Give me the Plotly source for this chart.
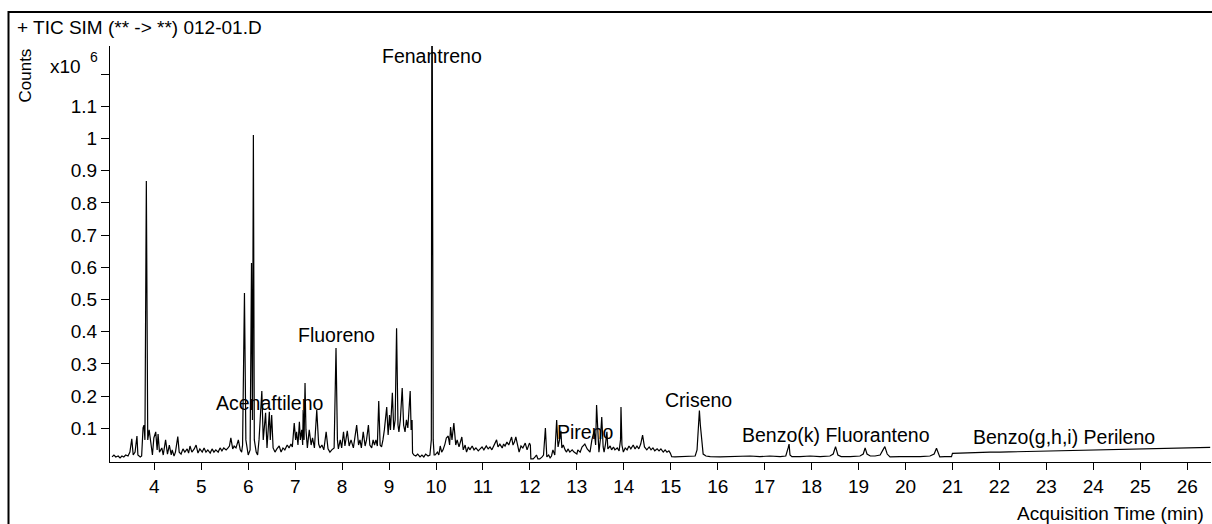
import plotly.graph_objects as go

# Acquisition time (min) and counts (x10^6)
time_min = [
    3.10, 3.14, 3.18, 3.23, 3.27, 3.31, 3.35, 3.39, 3.44, 3.48, 3.52, 3.55, 3.59, 3.63, 3.65, 3.70, 3.73, 3.76, 3.78, 3.80,
    3.83, 3.86, 3.89, 3.93, 3.96, 3.99, 4.03, 4.06, 4.08, 4.11, 4.16, 4.19, 4.24, 4.28, 4.32, 4.36, 4.38, 4.42, 4.45, 4.50,
    4.53, 4.57, 4.61, 4.65, 4.70, 4.73, 4.76, 4.80, 4.85, 4.89, 4.93, 4.97, 5.02, 5.06, 5.10, 5.14, 5.19, 5.23, 5.27, 5.31,
    5.36, 5.40, 5.44, 5.48, 5.53, 5.57, 5.60, 5.63, 5.67, 5.70, 5.74, 5.79, 5.83, 5.86, 5.88, 5.92, 5.95, 6.00, 6.04, 6.07,
    6.09, 6.11, 6.13, 6.17, 6.20, 6.23, 6.26, 6.29, 6.32, 6.34, 6.37, 6.40, 6.42, 6.45, 6.47, 6.50, 6.53, 6.57, 6.61, 6.66,
    6.70, 6.74, 6.78, 6.83, 6.87, 6.91, 6.94, 6.98, 7.01, 7.03, 7.06, 7.09, 7.11, 7.14, 7.16, 7.17, 7.19, 7.21, 7.23, 7.26,
    7.30, 7.34, 7.37, 7.41, 7.46, 7.50, 7.53, 7.57, 7.61, 7.66, 7.70, 7.74, 7.78, 7.83, 7.87, 7.90, 7.92, 7.96, 7.99, 8.03,
    8.06, 8.11, 8.15, 8.19, 8.24, 8.27, 8.31, 8.35, 8.38, 8.41, 8.45, 8.49, 8.52, 8.56, 8.59, 8.63, 8.66, 8.69, 8.72, 8.75,
    8.78, 8.81, 8.84, 8.87, 8.90, 8.95, 8.98, 9.01, 9.03, 9.07, 9.10, 9.13, 9.16, 9.19, 9.21, 9.24, 9.28, 9.31, 9.34, 9.37,
    9.40, 9.45, 9.47, 9.49, 9.50, 9.53, 9.57, 9.61, 9.66, 9.70, 9.74, 9.78, 9.83, 9.87, 9.90, 9.91, 9.92, 9.94, 9.96, 9.98,
    10.03, 10.06, 10.09, 10.12, 10.15, 10.19, 10.22, 10.26, 10.29, 10.31, 10.34, 10.38, 10.42, 10.45, 10.49, 10.55, 10.58,
    10.62, 10.65, 10.69, 10.72, 10.77, 10.81, 10.85, 10.90, 10.94, 10.98, 11.02, 11.07, 11.11, 11.15, 11.19, 11.24, 11.29,
    11.32, 11.36, 11.41, 11.44, 11.47, 11.51, 11.55, 11.61, 11.64, 11.67, 11.70, 11.74, 11.77, 11.81, 11.85, 11.90, 11.94,
    11.99, 12.01, 12.02, 12.07, 12.11, 12.14, 12.17, 12.21, 12.26, 12.29, 12.33, 12.36, 12.40, 12.43, 12.46, 12.49, 12.53,
    12.57, 12.59, 12.60, 12.63, 12.66, 12.68, 12.71, 12.75, 12.78, 12.81, 12.85, 12.90, 12.94, 13.00, 13.02, 13.07, 13.11,
    13.17, 13.22, 13.28, 13.32, 13.37, 13.40, 13.42, 13.45, 13.47, 13.50, 13.53, 13.56, 13.58, 13.61, 13.64, 13.66, 13.71,
    13.74, 13.78, 13.81, 13.86, 13.90, 13.93, 13.94, 13.96, 13.99, 14.03, 14.07, 14.11, 14.15, 14.20, 14.24, 14.28, 14.32,
    14.36, 14.40, 14.44, 14.49, 14.54, 14.58, 14.62, 14.66, 14.71, 14.75, 14.79, 14.84, 14.88, 14.92, 14.96, 14.99, 15.02,
    15.09, 15.20, 15.30, 15.41, 15.52, 15.56, 15.59, 15.61, 15.63, 15.67, 15.69, 15.75, 15.84, 16.05, 16.27, 16.48, 16.69,
    16.90, 17.11, 17.33, 17.45, 17.50, 17.52, 17.54, 17.58, 17.75, 17.97, 18.18, 18.39, 18.46, 18.51, 18.56, 18.63, 18.82,
    19.03, 19.10, 19.14, 19.18, 19.25, 19.35, 19.46, 19.52, 19.56, 19.61, 19.67, 19.88, 20.10, 20.31, 20.52, 20.61, 20.66,
    20.71, 20.73, 20.84, 20.95, 20.98, 21.00, 21.16, 21.37, 21.59, 21.80, 22.01, 22.29, 22.65, 23.08, 23.50, 23.72, 24.14,
    24.57, 25.14, 25.64, 26.06, 26.49,
]
counts_e6 = [
    0.011, 0.017, 0.011, 0.014, 0.008, 0.014, 0.011, 0.017, 0.014, 0.026, 0.067, 0.017, 0.026, 0.076, 0.017, 0.011, 0.014, 0.101, 0.110, 0.064,
    0.868, 0.064, 0.095, 0.048, 0.017, 0.070, 0.089, 0.033, 0.082, 0.026, 0.039, 0.017, 0.064, 0.020, 0.048, 0.017, 0.033, 0.014, 0.026, 0.074,
    0.026, 0.020, 0.036, 0.026, 0.036, 0.023, 0.045, 0.026, 0.036, 0.048, 0.023, 0.036, 0.026, 0.039, 0.026, 0.033, 0.023, 0.036, 0.026, 0.033,
    0.026, 0.039, 0.030, 0.039, 0.033, 0.039, 0.045, 0.070, 0.036, 0.045, 0.039, 0.064, 0.033, 0.026, 0.048, 0.520, 0.064, 0.017, 0.033, 0.613,
    0.126, 1.011, 0.064, 0.026, 0.017, 0.064, 0.126, 0.216, 0.064, 0.095, 0.148, 0.039, 0.095, 0.151, 0.064, 0.141, 0.039, 0.026, 0.036, 0.045,
    0.026, 0.039, 0.033, 0.048, 0.039, 0.051, 0.042, 0.116, 0.064, 0.089, 0.048, 0.120, 0.064, 0.095, 0.048, 0.157, 0.064, 0.241, 0.095, 0.039,
    0.095, 0.048, 0.070, 0.039, 0.157, 0.051, 0.039, 0.048, 0.033, 0.089, 0.036, 0.026, 0.033, 0.039, 0.349, 0.064, 0.036, 0.064, 0.039, 0.089,
    0.045, 0.092, 0.045, 0.064, 0.039, 0.064, 0.110, 0.048, 0.064, 0.039, 0.089, 0.045, 0.064, 0.110, 0.048, 0.039, 0.064, 0.048, 0.064, 0.045,
    0.185, 0.048, 0.042, 0.064, 0.095, 0.166, 0.079, 0.141, 0.095, 0.210, 0.095, 0.126, 0.411, 0.110, 0.089, 0.126, 0.225, 0.110, 0.089, 0.126,
    0.101, 0.216, 0.095, 0.126, 0.023, 0.017, 0.014, 0.020, 0.011, 0.017, 0.011, 0.020, 0.014, 0.017, 0.064, 1.306, 1.306, 0.064, 0.017, 0.017,
    0.026, 0.017, 0.045, 0.026, 0.033, 0.051, 0.070, 0.076, 0.048, 0.104, 0.064, 0.116, 0.048, 0.064, 0.042, 0.073, 0.033,
    0.048, 0.026, 0.042, 0.033, 0.045, 0.033, 0.039, 0.030, 0.036, 0.042, 0.033, 0.045, 0.036, 0.042, 0.033, 0.048, 0.064,
    0.042, 0.051, 0.039, 0.051, 0.045, 0.057, 0.048, 0.073, 0.048, 0.057, 0.073, 0.039, 0.026, 0.045, 0.039, 0.054, 0.033,
    0.054, 0.048, 0.005, 0.005, 0.011, 0.017, 0.005, 0.005, 0.011, 0.017, 0.101, 0.011, 0.017, 0.008, 0.014, 0.033, 0.017,
    0.126, 0.064, 0.042, 0.064, 0.092, 0.039, 0.048, 0.033, 0.026, 0.036, 0.026, 0.033, 0.026, 0.020, 0.033, 0.026, 0.042,
    0.051, 0.036, 0.026, 0.064, 0.092, 0.048, 0.172, 0.048, 0.026, 0.064, 0.135, 0.042, 0.026, 0.051, 0.089, 0.036, 0.045,
    0.033, 0.042, 0.033, 0.039, 0.030, 0.064, 0.166, 0.048, 0.026, 0.039, 0.033, 0.045, 0.036, 0.048, 0.036, 0.045, 0.036,
    0.051, 0.079, 0.042, 0.033, 0.042, 0.033, 0.039, 0.030, 0.036, 0.030, 0.036, 0.026, 0.033, 0.026, 0.030, 0.023, 0.012,
    0.011, 0.012, 0.011, 0.012, 0.014, 0.033, 0.110, 0.155, 0.110, 0.039, 0.020, 0.014, 0.012, 0.011, 0.012, 0.012, 0.014,
    0.012, 0.014, 0.012, 0.014, 0.039, 0.051, 0.017, 0.012, 0.012, 0.014, 0.012, 0.014, 0.020, 0.043, 0.017, 0.012, 0.012,
    0.014, 0.020, 0.039, 0.020, 0.014, 0.014, 0.017, 0.033, 0.043, 0.020, 0.011, 0.012, 0.011, 0.012, 0.014, 0.020, 0.038,
    0.017, 0.011, 0.012, 0.011, 0.012, 0.022, 0.023, 0.025, 0.025, 0.026, 0.026, 0.027, 0.029, 0.030, 0.032, 0.033, 0.034,
    0.036, 0.038, 0.039, 0.040, 0.041,
]

# Compound labels and their positions (time, counts x10^6)
label_text = ["Fenantreno", "Fluoreno", "Acenaftileno", "Pireno", "Criseno",
              "Benzo(k) Fluoranteno", "Benzo(g,h,i) Perileno"]
label_time = [9.925, 7.88, 6.443, 13.175, 15.60, 18.52, 23.375]
label_counts = [1.256, 0.390, 0.179, 0.089, 0.188, 0.079, 0.074]

x_ticks = list(range(4, 27))
y_ticks = [0.1, 0.2, 0.3, 0.4, 0.5, 0.6, 0.7, 0.8, 0.9, 1.0, 1.1, 1.2]
y_ticktext = ["0.1", "0.2", "0.3", "0.4", "0.5", "0.6", "0.7", "0.8", "0.9", "1", "1.1", ""]

FONT = "Liberation Sans, Arial, sans-serif"
W, H = 1212, 524
L, R, T, B = 110, 1, 46, 62
pw, ph = W - L - R, H - T - B


def px(xp):
    return (xp - L) / pw


def py(yp):
    return (H - B - yp) / ph


fig = go.Figure()
fig.add_trace(go.Scatter(x=time_min, y=counts_e6, mode="lines",
                         line=dict(color="black", width=1.2), showlegend=False,
                         hoverinfo="skip"))

annotations = []
for txt, tx, ty in zip(label_text, label_time, label_counts):
    annotations.append(dict(x=tx, y=ty, xref="x", yref="y", text=txt, showarrow=False,
                            font=dict(family=FONT, size=19.5, color="black"),
                            xanchor="center", yanchor="middle"))

annotations += [
    dict(x=px(15), y=py(28), xref="paper", yref="paper", text="+ TIC SIM (** -> **) 012-01.D",
         showarrow=False, xanchor="left", yanchor="middle",
         font=dict(family=FONT, size=19, color="black")),
    dict(x=px(25.5), y=py(76), xref="paper", yref="paper", text="Counts", textangle=-90,
         showarrow=False, xanchor="center", yanchor="middle",
         font=dict(family=FONT, size=17, color="black")),
    dict(x=px(48), y=py(66), xref="paper", yref="paper", text="x10",
         showarrow=False, xanchor="left", yanchor="middle",
         font=dict(family=FONT, size=19, color="black")),
    dict(x=px(93.5), y=py(57), xref="paper", yref="paper", text="6",
         showarrow=False, xanchor="center", yanchor="middle",
         font=dict(family=FONT, size=14, color="black")),
    dict(x=px(1206), y=py(513), xref="paper", yref="paper", text="Acquisition Time (min)",
         showarrow=False, xanchor="right", yanchor="middle",
         font=dict(family=FONT, size=19, color="black")),
]

fig.update_layout(
    width=W, height=H,
    margin=dict(l=L, r=R, t=T, b=B, pad=0),
    paper_bgcolor="white", plot_bgcolor="white",
    font=dict(family=FONT, size=19, color="black"),
    showlegend=False,
    annotations=annotations,
    shapes=[dict(type="rect", xref="paper", yref="paper",
                 x0=px(8.5), x1=px(1215), y0=py(530), y1=py(12),
                 line=dict(color="black", width=2), fillcolor="rgba(0,0,0,0)", layer="above")],
    xaxis=dict(range=[3.056, 26.507], tickvals=x_ticks, ticktext=[str(v) for v in x_ticks],
               showgrid=False, zeroline=False, showline=True, linecolor="black", linewidth=1,
               ticks="outside", ticklen=7, tickcolor="black", tickwidth=1,
               tickfont=dict(family=FONT, size=19, color="black")),
    yaxis=dict(range=[-0.0047, 1.2873], tickvals=y_ticks, ticktext=y_ticktext,
               showgrid=False, zeroline=False, showline=True, linecolor="black", linewidth=1,
               ticks="outside", ticklen=8, tickcolor="black", tickwidth=1,
               tickfont=dict(family=FONT, size=19, color="black")),
)

fig.write_html("out.html")
